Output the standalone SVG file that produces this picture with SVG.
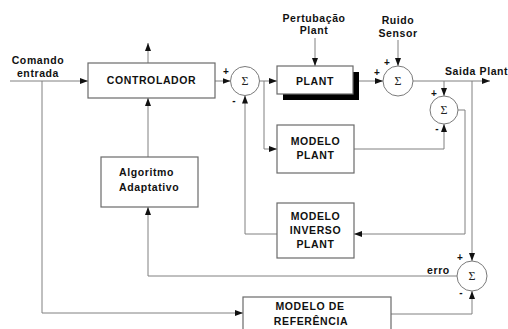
<svg xmlns="http://www.w3.org/2000/svg" width="508" height="329" viewBox="0 0 508 329">
<defs>
<marker id="ah" viewBox="0 0 8 6" refX="8" refY="3" markerWidth="8" markerHeight="6" markerUnits="userSpaceOnUse" orient="auto">
<path d="M0,0 L8,3 L0,6 Z" fill="#111"/>
</marker>
</defs>
<style>
.bx{fill:#fff;stroke:#6a6a6a;stroke-width:1.2}
.sg{fill:#fff;stroke:#7a7a7a;stroke-width:1}
.ln{fill:none;stroke:#808080;stroke-width:1;marker-end:url(#ah)}
.t{font-family:"Liberation Sans",Arial,sans-serif;font-size:10.5px;font-weight:bold;fill:#111;letter-spacing:0.6px}
.c{text-anchor:middle}
.s{font-family:"Liberation Serif","Times New Roman",serif;font-size:12px;fill:#222;text-anchor:middle}
.p{font-family:"Liberation Sans",Arial,sans-serif;font-size:10px;font-weight:bold;fill:#111;text-anchor:middle}
</style>
<rect width="508" height="329" fill="#fff"/>
<g id="connectors">
<path class="ln" d="M10,81 H88"/>
<path class="ln" d="M42,81 V313 H243"/>
<path class="ln" d="M148,63 V43"/>
<path class="ln" d="M148,157 V98"/>
<path class="ln" d="M215,81 H230.5"/>
<path class="ln" d="M259.5,81 H277"/>
<path class="ln" d="M264,81 V149 H277"/>
<path class="ln" d="M315,38 V66"/>
<path class="ln" d="M359,81 H383"/>
<path class="ln" d="M398,40 V66"/>
<path class="ln" d="M413,81 H490"/>
<path class="ln" d="M444,81 V96"/>
<path class="ln" d="M354,149 H444 V124"/>
<path class="ln" d="M458,110 H465 V234 H354"/>
<path class="ln" d="M277,234 H245 V95.5"/>
<path class="ln" d="M472,81 V261"/>
<path class="ln" d="M457,276 H148 V207"/>
<path class="ln" d="M391,314 H472 V291"/>
</g>
<g id="input-label">
<text class="t c" x="38" y="64">Comando</text>
<text class="t c" x="38" y="77">entrada</text>
</g>
<g id="controlador">
<rect class="bx" x="88" y="63" width="127" height="35"/>
<text class="t c" x="151.5" y="84">CONTROLADOR</text>
</g>
<g id="sum1">
<circle class="sg" cx="245" cy="81" r="14.5"/>
<text class="s" x="245" y="85">Σ</text>
<text class="p" x="226" y="75">+</text>
<text class="p" x="234" y="104">-</text>
</g>
<g id="pertubacao-label">
<text class="t c" x="314" y="22">Pertubação</text>
<text class="t c" x="314" y="34">Plant</text>
</g>
<g id="plant">
<rect x="283" y="72" width="76" height="28" fill="#000"/>
<rect class="bx" x="277" y="66" width="76" height="28"/>
<text class="t c" x="315" y="85">PLANT</text>
</g>
<g id="ruido-label">
<text class="t c" x="398" y="24">Ruido</text>
<text class="t c" x="398" y="37">Sensor</text>
</g>
<g id="sum2">
<circle class="sg" cx="398" cy="81" r="15"/>
<text class="s" x="398" y="85">Σ</text>
<text class="p" x="387" y="66">+</text>
<text class="p" x="377" y="76">+</text>
</g>
<g id="saida-label">
<text class="t" x="445" y="75" letter-spacing="0.1">Saida Plant</text>
</g>
<g id="sum3">
<circle class="sg" cx="444" cy="110" r="14"/>
<text class="s" x="444" y="114">Σ</text>
<text class="p" x="434" y="97">+</text>
<text class="p" x="437" y="132">-</text>
</g>
<g id="modelo-plant">
<rect class="bx" x="277" y="125" width="77" height="48"/>
<text class="t c" x="315.5" y="145">MODELO</text>
<text class="t c" x="315.5" y="159">PLANT</text>
</g>
<g id="modelo-inverso">
<rect class="bx" x="277" y="203" width="77" height="55"/>
<text class="t c" x="315.5" y="220">MODELO</text>
<text class="t c" x="315.5" y="234">INVERSO</text>
<text class="t c" x="315.5" y="248">PLANT</text>
</g>
<g id="algoritmo">
<rect class="bx" x="101" y="157" width="97" height="50"/>
<text class="t" x="119" y="176">Algoritmo</text>
<text class="t" x="119" y="191">Adaptativo</text>
</g>
<g id="sum4">
<circle class="sg" cx="472" cy="276" r="15"/>
<text class="s" x="472" y="280">Σ</text>
<text class="p" x="460" y="261">+</text>
<text class="p" x="461" y="296">-</text>
<text class="t" x="427" y="274">erro</text>
</g>
<g id="modelo-referencia">
<rect class="bx" x="243" y="297" width="148" height="40"/>
<text class="t c" x="310" y="310">MODELO DE</text>
<text class="t c" x="311" y="325">REFERÊNCIA</text>
</g>
</svg>
